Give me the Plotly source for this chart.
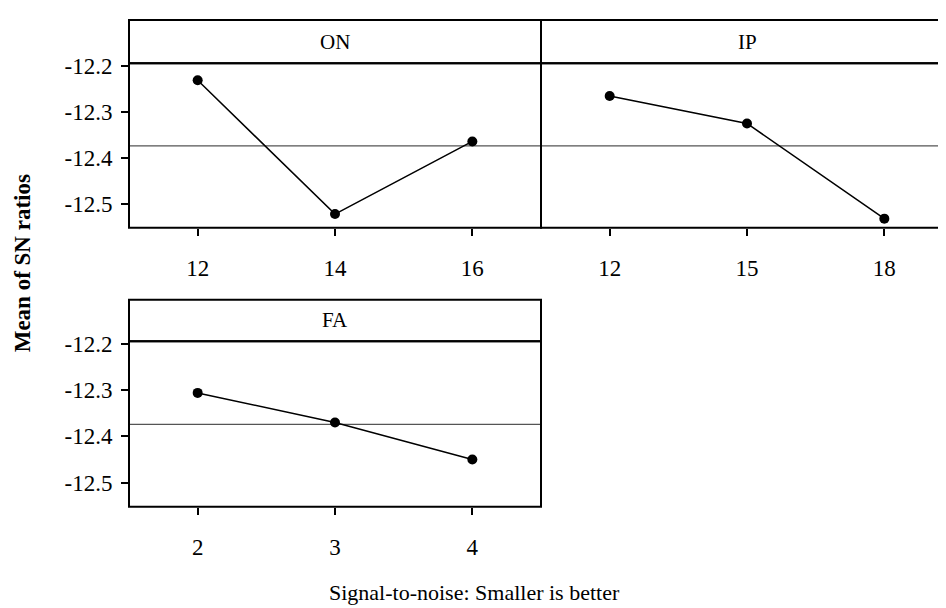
import plotly.graph_objects as go

# ---- data ----
on_levels = ["12", "14", "16"]
on_means = [-12.231, -12.522, -12.364]
ip_levels = ["12", "15", "18"]
ip_means = [-12.265, -12.325, -12.532]
fa_levels = ["2", "3", "4"]
fa_means = [-12.306, -12.370, -12.450]
y_ticks = [-12.2, -12.3, -12.4, -12.5]
y_tick_text = ["-12.2", "-12.3", "-12.4", "-12.5"]

overall_mean = sum(on_means + ip_means + fa_means) / 9.0

W, H = 946, 608
OFF = 8  # default page body margin
FONT = "Liberation Serif"


def px(x):
    return (x - OFF) / W


def py(y):
    return 1 - (y - OFF) / H


fig = go.Figure()

panels = [
    ("ON", on_levels, on_means, "x", "y"),
    ("IP", ip_levels, ip_means, "x2", "y2"),
    ("FA", fa_levels, fa_means, "x3", "y3"),
]
for name, lv, mv, xa, ya in panels:
    fig.add_trace(go.Scatter(
        x=lv, y=mv, xaxis=xa, yaxis=ya, mode="lines+markers",
        line=dict(color="black", width=1.5),
        marker=dict(color="black", size=10),
        showlegend=False, hoverinfo="x+y"))

axis_common = dict(showgrid=False, zeroline=False, showline=False,
                   ticks="outside", ticklen=7, tickwidth=1.5, tickcolor="black",
                   tickfont=dict(family=FONT, size=23, color="black"))
x_common = dict(ticklabelstandoff=13, **axis_common)
y_common = dict(ticklabelstandoff=4, **axis_common)

yr = [-12.552, -12.194]

# geometry (reference pixels)
L, MID = 129, 541
PW = MID - L
top_hdr, top_dt, top_bot = 11, 55, 222
bot_hdr, bot_dt, bot_bot = 295, 337, 505

fig.update_layout(
    width=W, height=H, margin=dict(l=0, r=0, t=0, b=0),
    paper_bgcolor="white", plot_bgcolor="white",
    xaxis=dict(domain=[px(L), px(MID)], type="category", range=[-0.5, 2.5],
               anchor="y", **x_common),
    yaxis=dict(domain=[py(top_bot), py(top_dt)], range=yr, anchor="x",
               tickvals=y_ticks, ticktext=y_tick_text, **y_common),
    xaxis2=dict(domain=[px(MID), min(1.0, px(MID + PW))], type="category",
                range=[-0.5, 2.5], anchor="y2", **x_common),
    yaxis2=dict(domain=[py(top_bot), py(top_dt)], range=yr, anchor="x2",
                showticklabels=False, showgrid=False, zeroline=False,
                showline=False, ticks=""),
    xaxis3=dict(domain=[px(L), px(MID)], type="category", range=[-0.5, 2.5],
                anchor="y3", **x_common),
    yaxis3=dict(domain=[py(bot_bot), py(bot_dt)], range=yr, anchor="x3",
                tickvals=y_ticks, ticktext=y_tick_text, **y_common),
)

border = dict(color="black", width=2)
shapes = []


def box(x0, x1, y0, y1):
    shapes.append(dict(type="rect", xref="paper", yref="paper",
                       x0=px(x0), x1=px(x1), y0=py(y1), y1=py(y0),
                       line=border, layer="above"))


# panel frames: header strip + data area
box(L, MID, top_hdr, top_dt)
box(L, MID, top_dt, top_bot)
box(MID, MID + PW, top_hdr, top_dt)
box(MID, MID + PW, top_dt, top_bot)
box(L, MID, bot_hdr, bot_dt)
box(L, MID, bot_dt, bot_bot)

# mean reference lines
for xa, ya in [("x", "y"), ("x2", "y2"), ("x3", "y3")]:
    shapes.append(dict(type="line", xref=f"{xa} domain", yref=ya,
                       x0=0, x1=1, y0=overall_mean, y1=overall_mean,
                       line=dict(color="#555555", width=1.2), layer="below"))
fig.update_layout(shapes=shapes)

ann = []
hdr_font = dict(family=FONT, size=21, color="black")
for text, xc, yc in [("ON", (L + MID) / 2, (top_hdr + top_dt) / 2),
                     ("IP", MID + PW / 2, (top_hdr + top_dt) / 2),
                     ("FA", (L + MID) / 2, (bot_hdr + bot_dt) / 2)]:
    ann.append(dict(text=text, xref="paper", yref="paper", x=px(xc), y=py(yc),
                    xanchor="center", yanchor="middle", showarrow=False,
                    font=hdr_font))
ann.append(dict(text="<b>Mean of SN ratios</b>", xref="paper", yref="paper",
                x=px(22), y=py(258), textangle=-90, showarrow=False,
                xanchor="center", yanchor="middle",
                font=dict(family=FONT, size=23, color="black")))
ann.append(dict(text="Signal-to-noise: Smaller is better", xref="paper",
                yref="paper", x=px(474), y=py(592), showarrow=False,
                xanchor="center", yanchor="middle",
                font=dict(family=FONT, size=22, color="black")))
fig.update_layout(annotations=ann)

fig.write_html("out.html")
